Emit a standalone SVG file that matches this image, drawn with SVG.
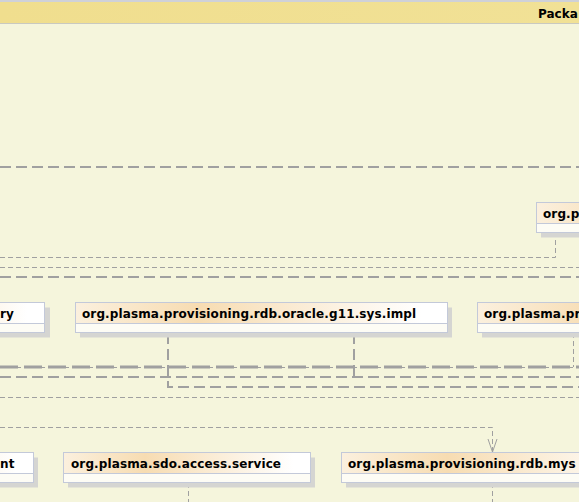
<svg xmlns="http://www.w3.org/2000/svg" width="579" height="502" viewBox="0 0 579 502">
<defs>
<linearGradient id="tg" x1="0" y1="0" x2="1" y2="0">
<stop offset="0" stop-color="#fbf0de"/>
<stop offset="0.33" stop-color="#f7dcb2"/>
<stop offset="0.93" stop-color="#ffffff"/>
<stop offset="1" stop-color="#ffffff"/>
</linearGradient>
<linearGradient id="hg" x1="0" y1="0" x2="1" y2="0">
<stop offset="0" stop-color="#f0de8e"/>
<stop offset="1" stop-color="#f1e196"/>
</linearGradient>
<marker id="open" viewBox="-14 -6 15 12" refX="0" refY="0" markerWidth="15" markerHeight="12" markerUnits="userSpaceOnUse" orient="auto">
<path d="M-13,-4.5 L0,0 L-13,4.5" fill="none" stroke="#a0a0a0" stroke-width="1"/>
</marker>
</defs>
<style>
.bg{fill:#f5f5dc}
.shadow{fill:#d5d5d2}
.title{fill:url(#tg);stroke:#c3c9d9;stroke-width:1}
.comp{fill:#fdfcf5;stroke:#c3c9d9;stroke-width:1}
.lbl{font-family:"DejaVu Sans",Verdana,sans-serif;font-weight:bold;font-size:12px;fill:#000;letter-spacing:0.12px}
.c{fill:none;stroke:#a0a0a0}
.thin{stroke-width:1;stroke-dasharray:5 3}
.med{stroke-width:2;stroke-dasharray:11 5}
.thick{stroke-width:3;stroke-dasharray:18 6}
</style>
<rect class="bg" x="0" y="0" width="579" height="502"/>
<g id="package-header">
<rect x="0" y="0" width="579" height="2" fill="#cfd1d8"/>
<rect x="0" y="2" width="579" height="21" fill="url(#hg)"/>
<rect x="0" y="23" width="579" height="1" fill="#c9c9c0"/>
<text class="lbl" x="538" y="18" style="letter-spacing:0">Packa</text>
</g>
<g id="connectors">
<path class="c med" d="M0 167 H579"/>
<path class="c thin" d="M0 257.5 H555.5 V233"/>
<path class="c thin" d="M0 267.5 H579"/>
<path class="c med" d="M0 277 H579"/>
<path class="c thin" d="M0 367.5 H579"/>
<path class="c thick" d="M0 367 H579"/>
<path class="c thin" d="M573.5 333 V367"/>
<path class="c med" d="M0 377 H579"/>
<path class="c med" d="M354 333 V377"/>
<path class="c med" d="M168 333 V387 H579"/>
<path class="c thin" d="M0 397.5 H579"/>
<path class="c thin" d="M0 427.5 H492.5 V452" marker-end="url(#open)"/>
<path class="c thin" d="M188.5 483 V502"/>
<path class="c thin" d="M492.5 483 V502"/>
</g>
<g id="node-top-right">
<rect class="shadow" x="541" y="207.5" width="300" height="30"/>
<rect class="title" x="536.5" y="202.5" width="300" height="21"/>
<rect class="comp" x="536.5" y="223.5" width="300" height="9"/>
<text class="lbl" x="543" y="218">org.p</text>
</g>
<g id="node-ry">
<rect class="shadow" x="-200" y="307.5" width="250" height="30"/>
<rect class="title" x="-205.5" y="302.5" width="250" height="21"/>
<rect class="comp" x="-205.5" y="323.5" width="250" height="9"/>
<text class="lbl" x="0" y="318">ry</text>
</g>
<g id="node-oracle-g11-sys-impl">
<rect class="shadow" x="80" y="307.5" width="372" height="30"/>
<rect class="title" x="75.5" y="302.5" width="372" height="21"/>
<rect class="comp" x="75.5" y="323.5" width="372" height="9"/>
<text class="lbl" x="82" y="318">org.plasma.provisioning.rdb.oracle.g11.sys.impl</text>
</g>
<g id="node-pr">
<rect class="shadow" x="482" y="307.5" width="370" height="30"/>
<rect class="title" x="477.5" y="302.5" width="370" height="21"/>
<rect class="comp" x="477.5" y="323.5" width="370" height="9"/>
<text class="lbl" x="484" y="318">org.plasma.pr</text>
</g>
<g id="node-nt">
<rect class="shadow" x="-212" y="457.5" width="250" height="30"/>
<rect class="title" x="-216.5" y="452.5" width="250" height="21"/>
<rect class="comp" x="-216.5" y="473.5" width="250" height="9"/>
<text class="lbl" x="0" y="468">nt</text>
</g>
<g id="node-sdo-access-service">
<rect class="shadow" x="68" y="457.5" width="247" height="30"/>
<rect class="title" x="63.5" y="452.5" width="247" height="21"/>
<rect class="comp" x="63.5" y="473.5" width="247" height="9"/>
<text class="lbl" x="71" y="468">org.plasma.sdo.access.service</text>
</g>
<g id="node-mysql">
<rect class="shadow" x="346" y="457.5" width="320" height="30"/>
<rect class="title" x="341.5" y="452.5" width="320" height="21"/>
<rect class="comp" x="341.5" y="473.5" width="320" height="9"/>
<text class="lbl" x="348" y="468">org.plasma.provisioning.rdb.mys</text>
</g>
</svg>
